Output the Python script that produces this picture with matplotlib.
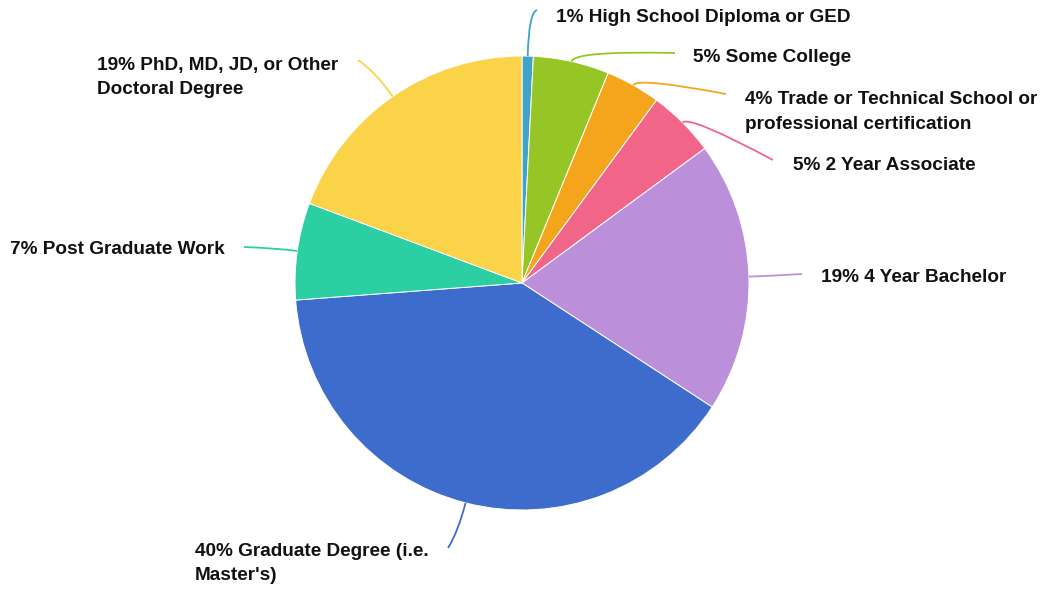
import numpy as np
import matplotlib
matplotlib.use("Agg")
import matplotlib.pyplot as plt
from matplotlib.path import Path
from matplotlib.patches import PathPatch

plt.rcParams['font.family'] = ['Liberation Sans', 'DejaVu Sans']

# Education level shares (percent of respondents)
categories = [
    "High School Diploma or GED",
    "Some College",
    "Trade or Technical School or\nprofessional certification",
    "2 Year Associate",
    "4 Year Bachelor",
    "Graduate Degree (i.e.\nMaster's)",
    "Post Graduate Work",
    "PhD, MD, JD, or Other\nDoctoral Degree",
]
shares = [0.8, 5.4, 3.9, 4.8, 19.3, 39.6, 6.9, 19.3]
colors = ["#3fa3c6", "#95c626", "#f5a51c", "#f06588", "#bc8fdb",
          "#3d6ccc", "#2ccfa3", "#fbd349"]

W, H = 1043, 592
fig = plt.figure(figsize=(W / 100, H / 100), dpi=100)
ax = fig.add_axes([0, 0, 1, 1])

cx, cy, R = 522, H - 283, 227
wedges, _ = ax.pie(shares, colors=colors, startangle=90, counterclock=False,
                   center=(cx, cy), radius=R, frame=True,
                   wedgeprops=dict(edgecolor="white", linewidth=0.7))
ax.set_xlim(0, W)
ax.set_ylim(0, H)
ax.set_aspect("equal")
ax.axis("off")

# label layout: (radial leader length, leader end (x, y from top), text x, text y from top)
layout = [
    (44, (537, 10), 556, 17),
    (11, (675, 53), 693, 57),
    (9, (726, 94), 745, 112),
    (10, (773, 160), 793, 166),
    (20, (802, 274), 821, 277),
    (30, (448, 548), 195, 563.5),
    (20, (244, 247), 10, 250),
    (30, (358, 60), 97, 77.5),
]

for w, color, share, cat, (l1, end, tx, ty) in zip(wedges, colors, shares,
                                                  categories, layout):
    mid = np.deg2rad((w.theta1 + w.theta2) / 2)
    d = np.array([np.cos(mid), np.sin(mid)])
    p0 = np.array([cx, cy]) + R * d
    p1 = p0 + l1 * d
    p2 = np.array([end[0], H - end[1]])
    path = Path([p0, p1, p2], [Path.MOVETO, Path.CURVE3, Path.CURVE3])
    ax.add_patch(PathPatch(path, facecolor="none", edgecolor=color, lw=1.3))
    ax.text(tx, H - ty, f"{round(share)}% {cat}", ha="left", va="center",
            fontsize=13.7, fontweight="bold", color="#111111", linespacing=1.6)

fig.savefig("out.png", dpi=100, facecolor="white")
